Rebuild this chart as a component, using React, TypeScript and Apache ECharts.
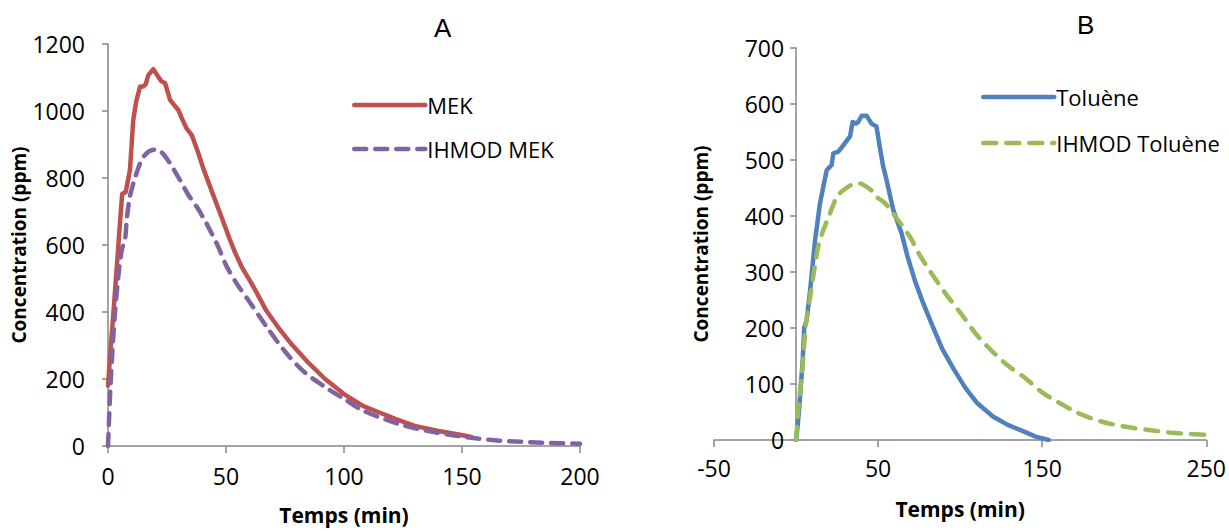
import React, { useEffect, useRef } from "react";
import * as echarts from "echarts";

// Panel A – MEK
const mekTimes = [0, 1, 2, 3, 4, 5, 6, 7.5, 9.3, 10.7, 12, 13.6, 14.9, 16, 17.1, 19.2, 21.3, 22.5, 24.2, 26.3, 28, 29.8, 31.5, 33.3, 35.5, 38, 40.4, 44, 47.5, 51.7, 54, 57, 60, 63, 67, 72, 78, 85, 92, 100, 108, 115, 122, 130, 140, 148, 154];
const mekValues = [180, 280, 370, 465, 560, 660, 752, 758, 824, 973, 1030, 1073, 1073, 1080, 1107, 1125, 1102, 1090, 1083, 1033, 1018, 1003, 975, 948, 928, 880, 828, 760, 695, 615, 575, 530, 495, 458, 405, 355, 302, 248, 200, 155, 120, 100, 80, 60, 45, 35, 27];
const ihmodMekTimes = [0, 0.5, 1, 2, 3, 4, 5, 6, 7.2, 8, 9.3, 11, 12.8, 14.5, 16.4, 18.5, 20.6, 22.5, 24.9, 27.5, 30.5, 34, 37.6, 40.5, 43.9, 47, 50, 55, 60, 67, 75, 83, 92, 100, 108, 117, 125, 134, 150, 166, 184, 200];
const ihmodMekValues = [0, 90, 170, 300, 400, 480, 545, 590, 615, 680, 745, 790, 829, 858, 874, 883, 885, 878, 858, 830, 794, 750, 714, 680, 635, 590, 540, 480, 430, 358, 282, 222, 176, 141, 106, 81, 62, 47, 28, 16, 10, 7];

// Panel B – Toluène
const tolTimes = [0, 1, 2, 3, 4, 5, 5.5, 6.5, 8.5, 11.6, 14.6, 16.8, 18.7, 21.7, 22.7, 25.8, 29.8, 32.9, 34.5, 36.5, 37.9, 40, 43, 46, 49, 51, 53, 55.2, 59.2, 64.3, 68, 72.5, 77, 82, 89, 96, 103, 110, 120, 129, 139, 146, 154];
const tolValues = [0, 25, 60, 100, 140, 200, 205, 215, 265, 357, 423, 455, 482, 491, 512, 515, 530, 542, 568, 565, 568, 579, 579, 565, 560, 524, 490, 464, 411, 369, 327, 284, 248, 212, 163, 127, 94, 67, 42, 27, 15, 6, 0];
const ihmodTolTimes = [0, 1.5, 4, 6, 8.5, 11, 13.5, 16, 18.7, 22.7, 25, 28.8, 34, 39, 43, 47, 50, 54.2, 61.3, 69.4, 75, 82, 91.5, 101, 110, 120, 129, 139, 150, 160, 172, 186, 200, 215, 229, 250];
const ihmodTolValues = [0, 60, 133, 206, 254, 302, 345, 370, 390, 420, 435, 446, 456, 458, 452, 443, 432, 423, 396, 363, 332, 300, 260, 224, 188, 157, 133, 112, 85, 67, 48, 33, 24, 18, 13, 9];

const xTicksB = [-50, 50, 150, 250];
const xMinB = -50;
const xMaxB = 250;

const zip = (a: number[], b: number[]) => a.map((t, i) => [t, b[i]]);

const FONT = "'Open Sans', sans-serif";
const AXIS_COLOR = "#868686";
const RED = "#C0504D";
const PURPLE = "#8064A2";
const BLUE = "#4F81BD";
const GREEN = "#9BBB59";

const GRID_B = { left: 714, right: 22, top: 48, bottom: 91 };

export default function App() {
  const ref = useRef<HTMLDivElement>(null);
  useEffect(() => {
    if (!ref.current) return;
    const chart = echarts.init(ref.current, undefined, { renderer: "svg" });
    const widthB = 1229 - GRID_B.left - GRID_B.right;
    // y axis of panel B sits at t = 0
    const yOffsetB = -(widthB * (0 - xMinB)) / (xMaxB - xMinB);
    const axisLine = { lineStyle: { color: AXIS_COLOR, width: 1.5 } };
    const axisTick = { lineStyle: { color: AXIS_COLOR, width: 1.5 }, length: 7 };
    const label = { color: "#000", fontSize: 23, fontFamily: FONT, formatter: (v: number) => String(v) };
    const xName = { color: "#000", fontSize: 21, fontWeight: "bold" as const, fontFamily: FONT };
    const yName = { color: "#000", fontSize: 19, fontWeight: "bold" as const, fontFamily: FONT };
    const legendText = { fontSize: 22, fontFamily: FONT, color: "#000", padding: [0, 0, 0, -3] };
    const solid = (c: string) => ({ width: 4.5, color: c, cap: "round", join: "round" });
    const dashed = (c: string, d: number[]) => ({ width: 4.5, color: c, type: d, cap: "round", join: "round" });
    chart.setOption({
      animation: false,
      backgroundColor: "#fff",
      title: [
        { text: "A", left: 429, top: 10, textStyle: { fontSize: 26, fontWeight: "normal", fontFamily: "Liberation Sans", color: "#000" } },
        { text: "B", left: 1072, top: 7, textStyle: { fontSize: 26, fontWeight: "normal", fontFamily: "Liberation Sans", color: "#000" } },
      ],
      legend: [
        {
          orient: "vertical", left: 347, top: 89, itemWidth: 71, itemHeight: 24, itemGap: 22,
          itemStyle: { opacity: 0 },
          data: [
            { name: "MEK", lineStyle: solid(RED) },
            { name: "IHMOD MEK", lineStyle: dashed(PURPLE, [12, 9]) },
          ],
          textStyle: legendText,
        },
        {
          orient: "vertical", left: 976, top: 81, itemWidth: 71, itemHeight: 24, itemGap: 24,
          itemStyle: { opacity: 0 },
          data: [
            { name: "Toluène", lineStyle: solid(BLUE) },
            { name: "IHMOD Toluène", lineStyle: dashed(GREEN, [13, 10]) },
          ],
          textStyle: legendText,
        },
      ],
      grid: [
        { left: 108, right: 649, top: 44, bottom: 85 },
        GRID_B,
      ],
      xAxis: [
        {
          type: "value", gridIndex: 0, min: 0, max: 200, interval: 50,
          name: "Temps (min)", nameLocation: "middle", nameGap: 58, nameTextStyle: xName,
          axisLine: { ...axisLine, onZero: false }, axisTick, splitLine: { show: false }, axisLabel: { ...label, margin: 18 },
        },
        {
          type: "value", gridIndex: 1, min: xMinB, max: xMaxB,
          name: "Temps (min)", nameLocation: "middle", nameGap: 58, nameTextStyle: xName,
          axisLine: { ...axisLine, onZero: false }, axisTick: { ...axisTick, customValues: xTicksB }, splitLine: { show: false },
          axisLabel: { ...label, margin: 16, customValues: xTicksB },
        },
      ],
      yAxis: [
        {
          type: "value", gridIndex: 0, min: 0, max: 1200, interval: 200,
          name: "Concentration (ppm)", nameLocation: "middle", nameGap: 76, nameTextStyle: yName,
          axisLine: { ...axisLine, show: true, onZero: false }, axisTick: { ...axisTick, show: true, length: 6 },
          splitLine: { show: false }, axisLabel: { ...label, margin: 23 },
        },
        {
          type: "value", gridIndex: 1, min: 0, max: 700, interval: 100, offset: yOffsetB,
          name: "Concentration (ppm)", nameLocation: "middle", nameGap: 86, nameTextStyle: yName,
          axisLine: { ...axisLine, show: true, onZero: false }, axisTick: { ...axisTick, show: true, length: 6 },
          splitLine: { show: false }, axisLabel: { ...label, margin: 12 },
        },
      ],
      series: [
        {
          name: "MEK", type: "line", xAxisIndex: 0, yAxisIndex: 0, showSymbol: false, symbol: "none",
          data: zip(mekTimes, mekValues), color: RED, lineStyle: solid(RED), z: 2,
        },
        {
          name: "IHMOD MEK", type: "line", xAxisIndex: 0, yAxisIndex: 0, showSymbol: false, symbol: "none", smooth: 0.3,
          data: zip(ihmodMekTimes, ihmodMekValues), color: PURPLE, lineStyle: dashed(PURPLE, [12, 9]), z: 3,
        },
        {
          name: "Toluène", type: "line", xAxisIndex: 1, yAxisIndex: 1, showSymbol: false, symbol: "none",
          data: zip(tolTimes, tolValues), color: BLUE, lineStyle: solid(BLUE), z: 2,
        },
        {
          name: "IHMOD Toluène", type: "line", xAxisIndex: 1, yAxisIndex: 1, showSymbol: false, symbol: "none", smooth: 0.3,
          data: zip(ihmodTolTimes, ihmodTolValues), color: GREEN, lineStyle: dashed(GREEN, [13, 10]), z: 3,
        },
      ],
    });
    return () => chart.dispose();
  }, []);
  return <div ref={ref} style={{ position: "fixed", left: 0, top: 0, width: 1229, height: 531 }} />;
}
